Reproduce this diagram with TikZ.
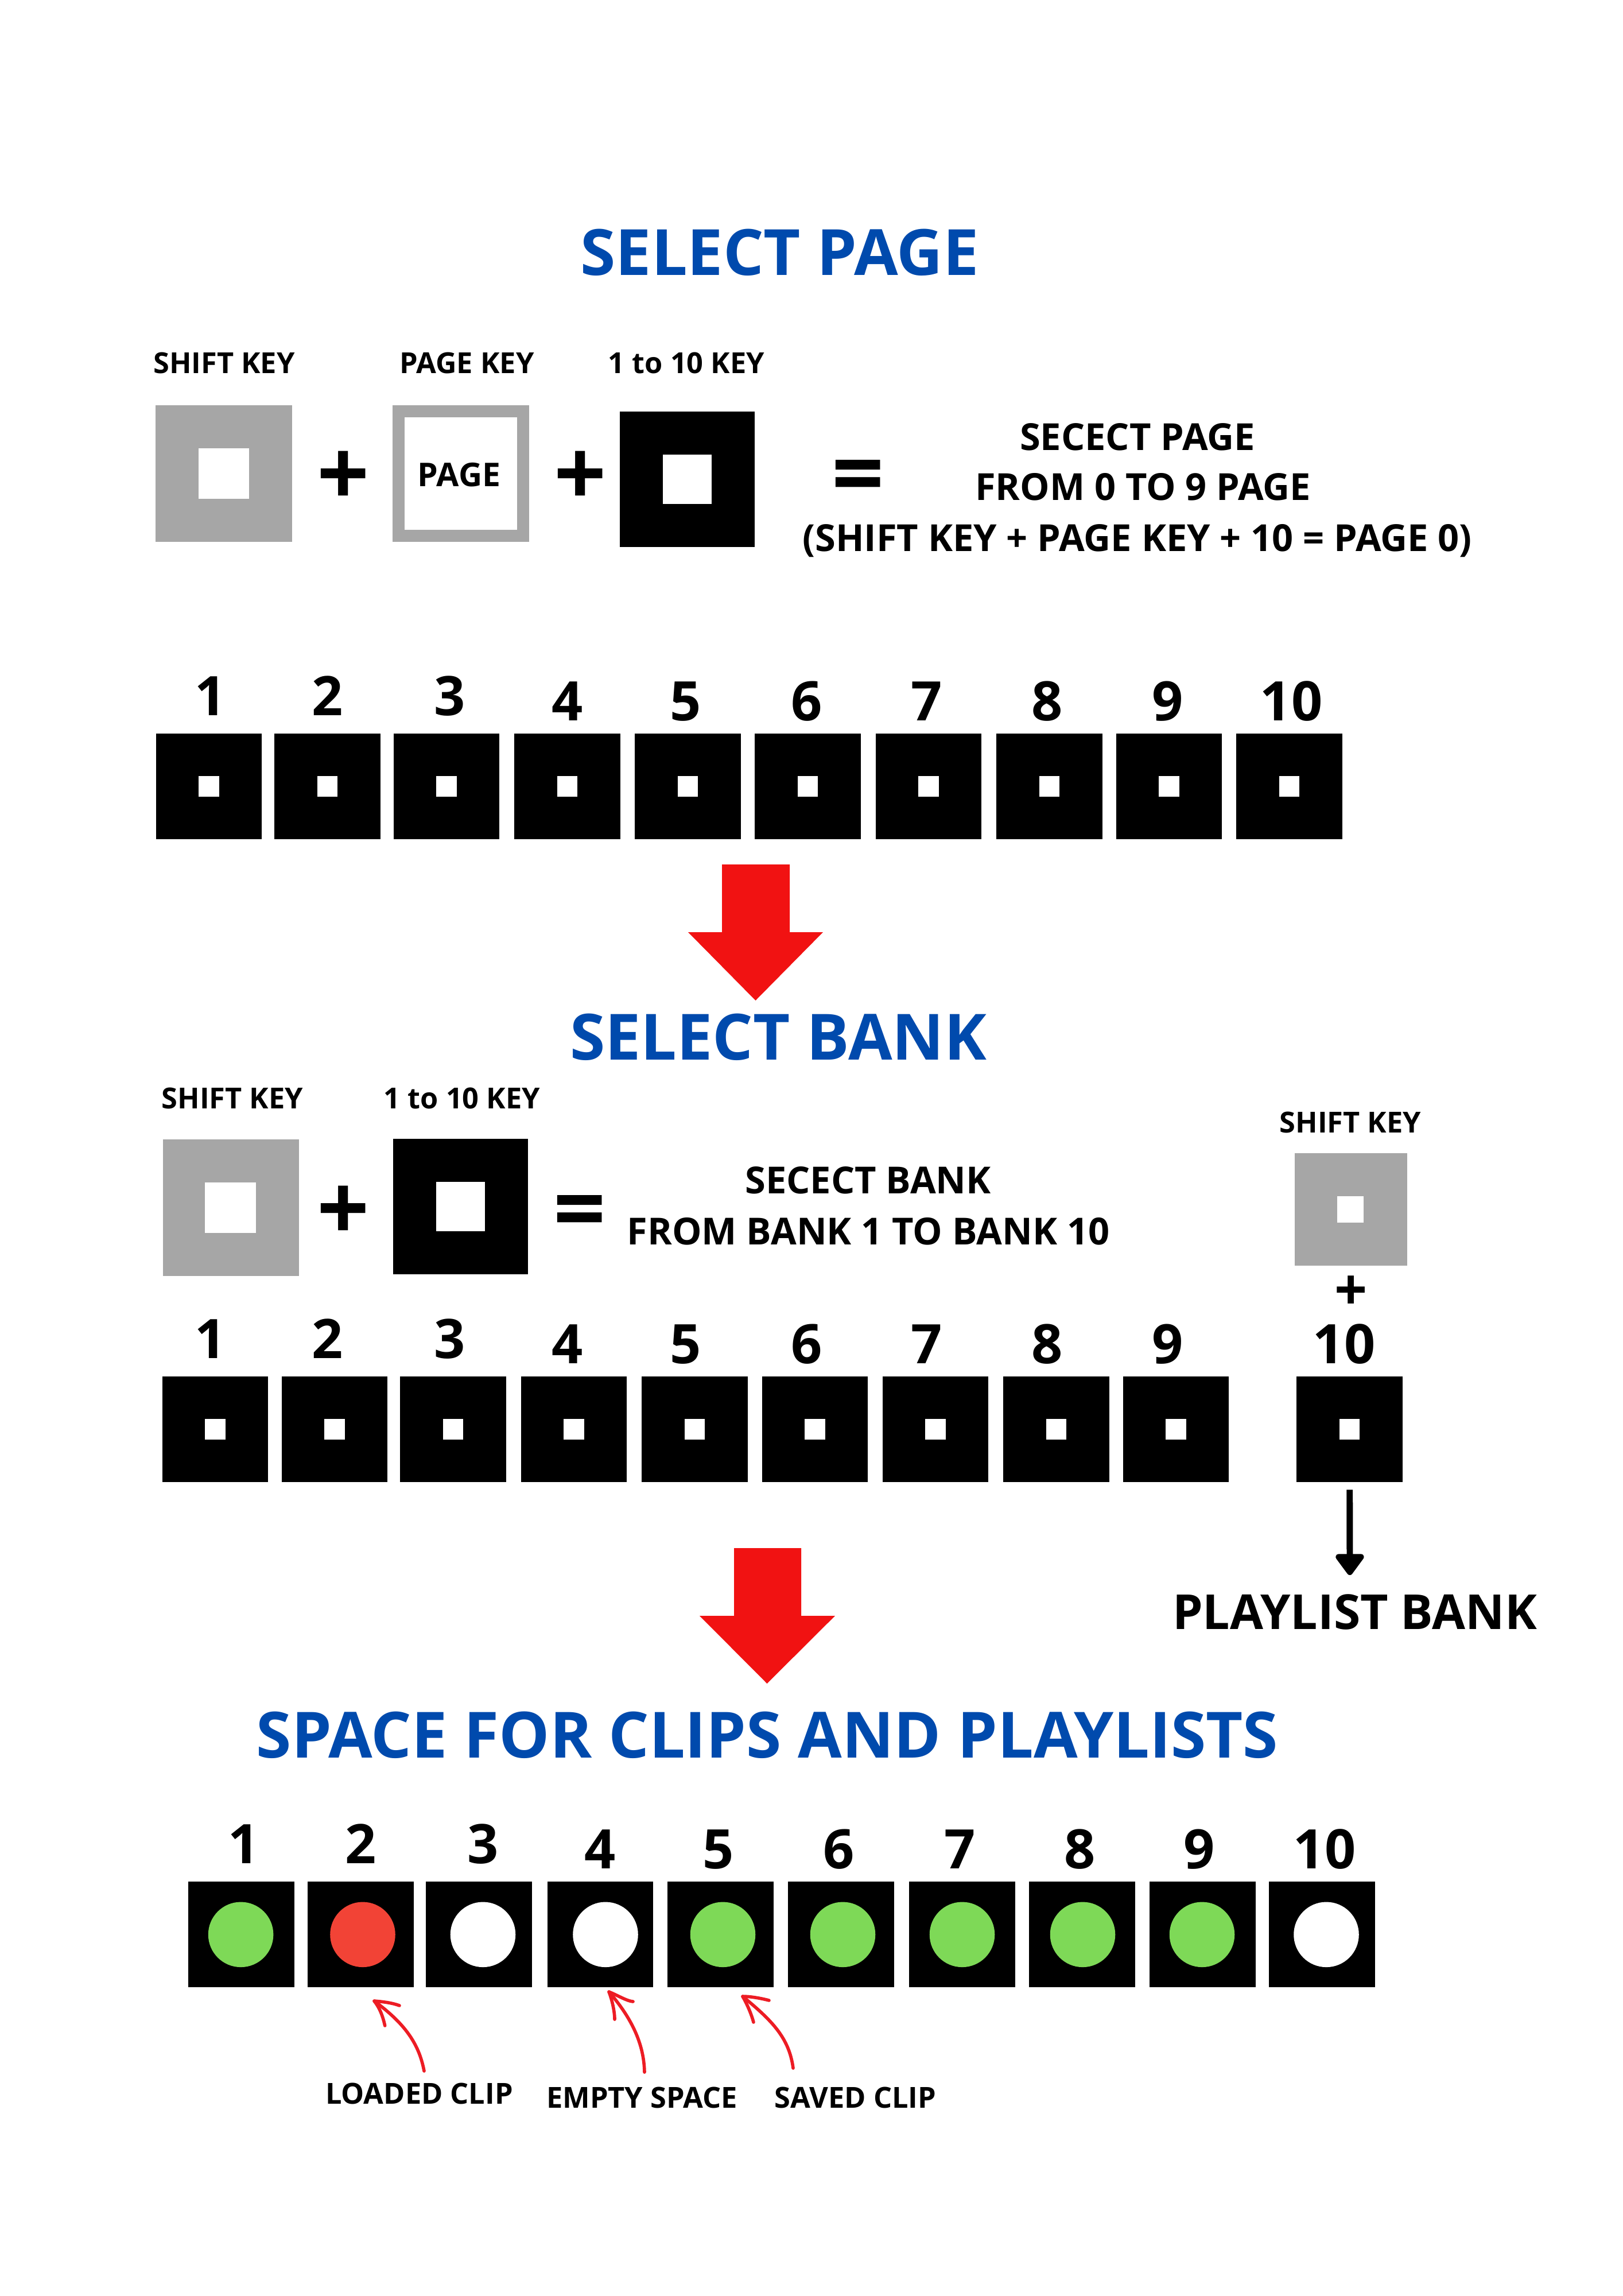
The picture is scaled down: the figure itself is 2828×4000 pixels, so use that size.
\documentclass[tikz,border=0pt]{standalone}
\usepackage{fontspec}
\setmainfont{Open Sans}
\usetikzlibrary{arrows.meta}
\definecolor{tblue}{HTML}{004AAD}
\definecolor{tgray}{HTML}{A6A6A6}
\definecolor{tred}{HTML}{F11212}
\definecolor{tgreen}{HTML}{7ED957}
\definecolor{tload}{HTML}{F24336}
\definecolor{thin}{HTML}{ED1C24}
\newcommand\pxu{0.28453pt}
\newcommand\fsz[1]{\fontsize{#1}{#1}\selectfont\bfseries}
\tikzset{
  x=0.01cm,y=-0.01cm,
  txt/.style={anchor=base,inner sep=0,outer sep=0,font=\fsz{#1}},
  title/.style={txt=31.6,text=tblue},
  num/.style={txt=27},
  lab/.style={txt=14.35},
  body/.style={txt=18.45},
  sign/.style={txt=45.5},
  sq/.style={minimum size=#1*\pxu,inner sep=0,outer sep=0,fill=black,draw=none},
  hole/.style={minimum size=#1*\pxu,inner sep=0,outer sep=0,fill=white,draw=none},
  dot/.style={circle,minimum size=113.5*\pxu,inner sep=0,outer sep=0,draw=none},
  blockarrow/.style={fill=tred,draw=none},
  thinarrow/.style={draw=thin,line width=1.6pt,line cap=round,line join=round},
}
\begin{document}
\begin{tikzpicture}
\useasboundingbox (0,0) rectangle (2828,4000);
\fill[white] (0,0) rectangle (2828,4000);

% SELECT PAGE
\node[title] (t1) at (1358.5,479) {SELECT PAGE};
\node[lab] (l1) at (390.5,650.5) {SHIFT KEY};
\node[lab] (l2) at (813.5,650.5) {PAGE KEY};
\node[lab] (l3) at (1196,650.5) {1 to 10 KEY};
\node[sq=238,fill=tgray] (k1) at (390,825) {};
\node[hole=88] (k1h) at (390,825) {};
\node[sq=238,fill=tgray] (k2) at (803,825) {};
\node[hole=196] (k2h) at (803,825) {};
\node[txt=16.2] (k2t) at (800,847.5) {PAGE};
\node[sq=235] (k3) at (1197.5,835) {};
\node[hole=85] (k3h) at (1197.5,835) {};
\node[sign] (p1) at (598.5,881) {+};
\node[sign] (p2) at (1011,881) {+};
\node[sign] (e1) at (1495.5,881) {=};
\node[body] (b1) at (1982,784) {SECECT PAGE};
\node[body] (b2) at (1991.5,871.5) {FROM 0 TO 9 PAGE};
\node[body] (b3) at (1981.5,960) {(SHIFT KEY + PAGE KEY + 10 = PAGE 0)};
\foreach \i/\x/\nx/\ny in {1/364/367/1246.6,2/570.5/571/1246.6,3/778/784/1246.6,4/988.5/989/1255.6,5/1198.7/1195/1255.6,6/1407.5/1405.5/1255.6,7/1618/1615/1255.6,8/1828.4/1825/1255.6,9/2037/2035/1255.6,10/2246.7/2250/1255.6}{
  \node[sq=184.7] (a\i) at (\x,1370) {};
  \node[hole=35.5] (ah\i) at (\x,1370) {};
  \node[num] (an\i) at (\nx,\ny) {\i};
}

\fill[blockarrow] (1258,1506)--(1376,1506)--(1376,1624)--(1434,1624)--(1316.5,1743)--(1199,1624)--(1258,1624)--cycle;

% SELECT BANK
\node[title] (t2) at (1356,1846) {SELECT BANK};
\node[lab] (m1) at (405,1931) {SHIFT KEY};
\node[lab] (m2) at (805,1931) {1 to 10 KEY};
\node[sq=237,fill=tgray] (s1) at (402.5,2104) {};
\node[hole=88] (s1h) at (401.5,2104) {};
\node[sq=235] (s2) at (802.5,2102) {};
\node[hole=85] (s2h) at (802.5,2102) {};
\node[sign] (p3) at (598.5,2161) {+};
\node[sign] (e2) at (1010,2162) {=};
\node[body] (c1) at (1512.5,2079) {SECECT BANK};
\node[body] (c2) at (1513,2168) {FROM BANK 1 TO BANK 10};
\node[lab] (m3) at (2353,1973) {SHIFT KEY};
\node[sq=196,fill=tgray] (s3) at (2354,2107) {};
\node[hole=46] (s3h) at (2353,2107) {};
\node[txt=28.5] (p4) at (2354,2282) {+};
\foreach \i/\x/\nx/\ny in {1/375/367/2366,2/583/571/2366,3/789.5/784/2366,4/1000/989/2375,5/1210.5/1195/2375,6/1420/1405.5/2375,7/1630/1615/2375,8/1840.5/1825/2375,9/2049/2035/2375,10/2351.7/2342/2375}{
  \node[sq=184.7] (b\i) at (\x,2490) {};
  \node[hole=35.5] (bh\i) at (\x,2490) {};
  \node[num] (bn\i) at (\nx,\ny) {\i};
}
\coordinate (pl) at (2352,2744);
\draw[line width=3.1pt,shorten <=3.7pt,-{Triangle[width=16pt,length=11.5pt,round]}] (b10.south) -- (pl);
\node[txt=23.9] (pb) at (2360.5,2838) {PLAYLIST BANK};

\fill[blockarrow] (1279,2697)--(1396,2697)--(1396,2815)--(1455,2815)--(1336.5,2933)--(1219,2815)--(1279,2815)--cycle;

% SPACE FOR CLIPS
\node[title] (t3) at (1337,3062.5) {SPACE FOR CLIPS AND PLAYLISTS};
\foreach \i/\x/\dx/\nx/\ny/\col in {1/420.7/419.6/425/3246/tgreen,2/628.5/632/628.5/3246/tload,3/834.5/841.5/841.5/3246/white,4/1046/1055/1046/3255/white,5/1255.5/1259.5/1252/3255/tgreen,6/1465.5/1468.5/1462/3255/tgreen,7/1676.5/1676.5/1673/3255/tgreen,8/1885.5/1886.5/1882/3255/tgreen,9/2095.5/2094.5/2090/3255/tgreen,10/2303.7/2311/2308/3255/white}{
  \node[sq=184.7] (c\i) at (\x,3370) {};
  \node[dot,fill=\col] (d\i) at (\dx,3370.3) {};
  \node[num] (cn\i) at (\nx,\ny) {\i};
}
\node[lab] (q1) at (730.5,3665.5) {LOADED CLIP};
\node[lab] (q2) at (1118.5,3672.5) {EMPTY SPACE};
\node[lab] (q3) at (1490.5,3672.5) {SAVED CLIP};

\coordinate (a1t) at (739,3608); \coordinate (a1h) at (652,3486);
\coordinate (a2t) at (1123,3610); \coordinate (a2h) at (1061,3470);
\coordinate (a3t) at (1382,3603); \coordinate (a3h) at (1294,3478);
\draw[thinarrow] (a1t) .. controls (730,3560) and (705,3525) .. (a1h);
\draw[thinarrow] (670.7,3529) .. controls (667,3512) and (661,3497) .. (a1h) .. controls (665,3487) and (683,3489) .. (696,3494);
\draw[thinarrow] (a2t) .. controls (1122,3560) and (1100,3515) .. (a2h);
\draw[thinarrow] (1071,3518) .. controls (1071,3503) and (1066,3483) .. (a2h) .. controls (1078,3477) and (1092,3486) .. (1103,3487);
\draw[thinarrow] (a3t) .. controls (1375,3550) and (1345,3520) .. (a3h);
\draw[thinarrow] (1313,3523) .. controls (1309,3508) and (1301,3490) .. (a3h) .. controls (1307,3478) and (1325,3481) .. (1340,3485);
\end{tikzpicture}
\end{document}
